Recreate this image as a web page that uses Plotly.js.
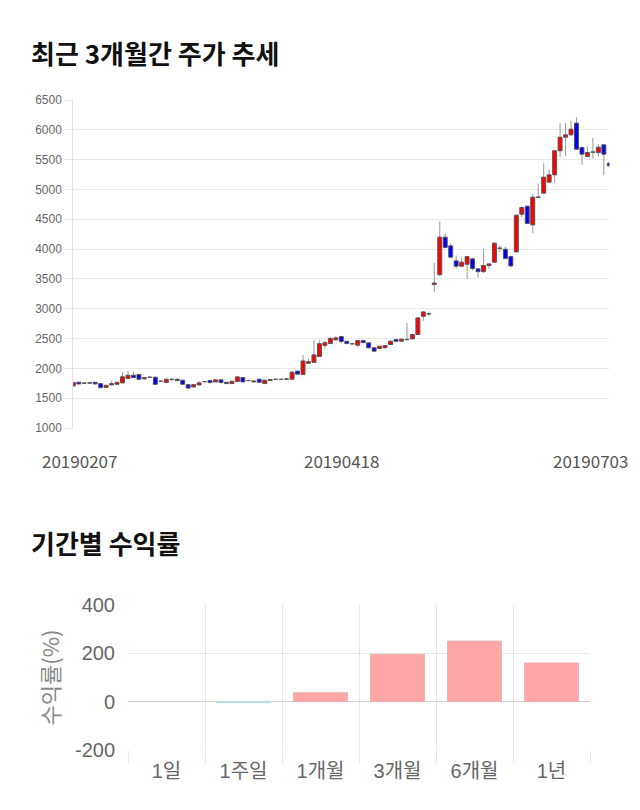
<!DOCTYPE html>
<html>
<head>
<meta charset="utf-8">
<script src="https://cdn.plot.ly/plotly-3.0.1.min.js"></script>
<style>html,body{margin:0;padding:0;background:#fff;}#chart{width:640px;height:810px;}</style>
</head>
<body>
<div id="chart"></div>
<script>
// ---- Price data (daily candles, 20190207 .. 20190703) ----
var openP = [1705,1767,1750,1760,1767,1744,1682,1722,1733,1756,1830,1886,1898,1824,1850,1852,1786,1761,1815,1818,
1801,1727,1688,1722,1775,1795,1773,1807,1767,1745,1779,1846,1798,1773,1818,1745,1796,1815,1818,1815,
1818,1954,1898,2085,2101,2198,2384,2418,2478,2533,2455,2413,2388,2466,2428,2345,2333,2345,2400,2483,
2455,2480,2495,2567,2873,2915,3408,3570,4200,4054,3802,3713,3746,3836,3668,3622,3723,3780,4018,3998,
3874,3953,4585,4720,4406,4865,4938,5122,5245,5648,5877,5916,6112,5703,5552,5630,5619,5748,5441];
var highP = [1765,1775,1762,1765,1772,1750,1720,1790,1772,1943,1960,1943,1905,1852,1870,1858,1795,1830,1840,1830,
1807,1733,1733,1790,1790,1800,1812,1812,1773,1790,1870,1852,1805,1796,1824,1807,1818,1824,1824,1830,
1943,1965,2226,2170,2481,2470,2460,2520,2540,2545,2465,2425,2475,2480,2435,2352,2380,2390,2470,2495,
2500,2762,2580,2850,2960,2950,3766,4461,4260,4100,3891,3860,3890,3845,3680,3998,3760,4120,4070,4040,
3885,4580,4710,4730,4930,5094,5441,5330,5655,6112,6120,6150,6210,5720,5720,5861,5760,5760,5480];
var lowP = [1700,1735,1745,1748,1735,1665,1675,1718,1728,1750,1825,1840,1812,1818,1840,1720,1775,1755,1790,1790,
1725,1662,1682,1716,1765,1750,1767,1750,1735,1740,1773,1767,1785,1767,1760,1740,1790,1810,1810,1810,
1812,1898,1890,2080,2095,2190,2330,2410,2470,2430,2405,2400,2360,2425,2338,2280,2325,2338,2395,2448,
2448,2470,2488,2560,2800,2880,3281,3550,4020,3855,3680,3705,3500,3640,3522,3600,3660,3770,3950,3835,
3690,3945,4530,4420,4266,4860,4930,5115,5116,5540,5560,5905,5670,5413,5540,5520,5550,5240,5370];
var closeP = [1761,1739,1756,1752,1739,1676,1716,1744,1767,1858,1886,1847,1818,1847,1852,1733,1784,1818,1818,1795,
1733,1670,1727,1756,1779,1761,1807,1761,1745,1784,1857,1773,1795,1790,1767,1801,1813,1818,1815,1824,
1937,1903,2124,2112,2226,2413,2430,2503,2512,2450,2416,2410,2466,2433,2345,2288,2371,2383,2455,2455,
2489,2485,2567,2846,2946,2911,3431,4200,4026,3864,3713,3780,3874,3673,3622,3723,3751,4099,4012,3841,
3718,4569,4696,4428,4871,4875,5206,5245,5648,5877,5916,6011,5676,5592,5619,5624,5709,5592,5396];
var dateLabels = ["20190207", "20190418", "20190703"];

// ---- Period returns ----
var periods = ["1일", "1주일", "1개월", "3개월", "6개월", "1년"];
var returns = [0, -3, 37, 196, 251, 160];
var returnTicks = [-200, 0, 200, 400];
var returnTickText = ["-200", "0", "200", "400"];

var idx = openP.map(function(_, i){ return i; });
var wickLen = highP.map(function(h, i){ return h - lowP[i]; });
var bodyBase = openP.map(function(o, i){ return Math.min(o, closeP[i]); });
var bodyLen = openP.map(function(o, i){ return Math.abs(closeP[i] - o); });
var bodyCol = openP.map(function(o, i){ return closeP[i] >= o ? '#ff0000' : '#0000ff'; });
var midIdx = Math.floor((openP.length - 1) / 2);
var lastIdx = openP.length - 1;

var W = 640, H = 810;
function py(p){ return 1 - p / H; }

var traces = [
  { // wicks (low-high)
    type: 'bar', x: idx, y: wickLen, base: lowP, width: 0.2,
    xaxis: 'x', yaxis: 'y',
    marker: {color: '#a0a0a0', line: {width: 0}},
    hoverinfo: 'skip'
  },
  { // bodies (open-close)
    type: 'bar', x: idx, y: bodyLen, base: bodyBase, width: 0.72,
    xaxis: 'x', yaxis: 'y',
    marker: {color: bodyCol, line: {color: '#555', width: 1}},
    hoverinfo: 'skip'
  },
  {
    type: 'bar', x: periods, y: returns, xaxis: 'x2', yaxis: 'y2',
    width: 0.7,
    marker: {
      color: returns.map(function(v){ return v >= 0 ? '#ffa6a6' : '#a9d2ea'; }),
      line: {color: returns.map(function(v){ return v > 0 ? '#e8b4b4' : (v < 0 ? '#b9d8ea' : 'rgba(0,0,0,0)'); }), width: 1}
    },
    hoverinfo: 'skip'
  }
];

var layout = {
  width: W, height: H,
  margin: {l: 0, r: 0, t: 0, b: 0},
  paper_bgcolor: '#fff', plot_bgcolor: '#fff',
  showlegend: false,
  barmode: 'overlay',
  font: {family: 'Liberation Sans, Noto Sans CJK KR, sans-serif', color: '#666'},
  xaxis: {
    domain: [73.3 / W, 609.3 / W], range: [0, lastIdx],
    showgrid: false, zeroline: false, showticklabels: false, showline: false,
    fixedrange: true, anchor: 'y'
  },
  yaxis: {
    domain: [py(428), py(100)], range: [1000, 6500], dtick: 500,
    gridcolor: '#e8e8e8', gridwidth: 1,
    ticks: 'outside', ticklen: 8, tickcolor: '#e8e8e8',
    tickfont: {size: 12, color: '#666', family: 'Liberation Sans, sans-serif'},
    showline: true, linecolor: '#e3e3e3', zeroline: false, anchor: 'x'
  },
  xaxis2: {
    domain: [128 / W, 590 / W], type: 'category', tickson: 'boundaries',
    showgrid: true, gridcolor: '#e6e6e6',
    ticks: 'outside', ticklen: 12, tickcolor: '#e6e6e6', ticklabelstandoff: 7,
    tickfont: {size: 20, color: '#666', family: 'Liberation Sans, Noto Sans CJK KR, sans-serif'},
    showline: false, zeroline: false, anchor: 'y2'
  },
  yaxis2: {
    domain: [py(750), py(605)], range: [-200, 400],
    tickmode: 'array', tickvals: returnTicks, ticktext: returnTickText,
    gridcolor: '#e6e6e6', zeroline: true, zerolinecolor: '#cfcfcf', zerolinewidth: 1,
    ticks: 'outside', ticklen: 8, tickcolor: 'rgba(0,0,0,0)',
    tickfont: {size: 20, color: '#666', family: 'Liberation Sans, sans-serif'},
    title: {text: '수익률(%)', font: {size: 22, color: '#888', family: 'Noto Sans CJK KR, sans-serif'}, standoff: 9},
    showline: false, anchor: 'x2'
  },
  annotations: [
    {text: '<b>최근 3개월간 주가 추세</b>', xref: 'paper', yref: 'paper', x: 29 / W, y: py(52),
     xanchor: 'left', yanchor: 'middle', showarrow: false,
     font: {size: 26, color: '#111', family: 'Noto Sans CJK KR, sans-serif'}},
    {text: '<b>기간별 수익률</b>', xref: 'paper', yref: 'paper', x: 29 / W, y: py(542),
     xanchor: 'left', yanchor: 'middle', showarrow: false,
     font: {size: 26, color: '#111', family: 'Noto Sans CJK KR, sans-serif'}},
    {text: dateLabels[0], xref: 'x', yref: 'paper', x: 0, y: py(461), xanchor: 'left', xshift: -33,
     yanchor: 'middle', showarrow: false, font: {size: 17, color: '#555', family: 'Noto Sans CJK KR, sans-serif'}},
    {text: dateLabels[1], xref: 'x', yref: 'paper', x: midIdx, y: py(461), xanchor: 'center',
     yanchor: 'middle', showarrow: false, font: {size: 17, color: '#555', family: 'Noto Sans CJK KR, sans-serif'}},
    {text: dateLabels[2], xref: 'x', yref: 'paper', x: lastIdx, y: py(461), xanchor: 'right', xshift: 21,
     yanchor: 'middle', showarrow: false, font: {size: 17, color: '#555', family: 'Noto Sans CJK KR, sans-serif'}}
  ]
};

Plotly.newPlot('chart', traces, layout, {staticPlot: true, displayModeBar: false});
</script>
</body>
</html>
